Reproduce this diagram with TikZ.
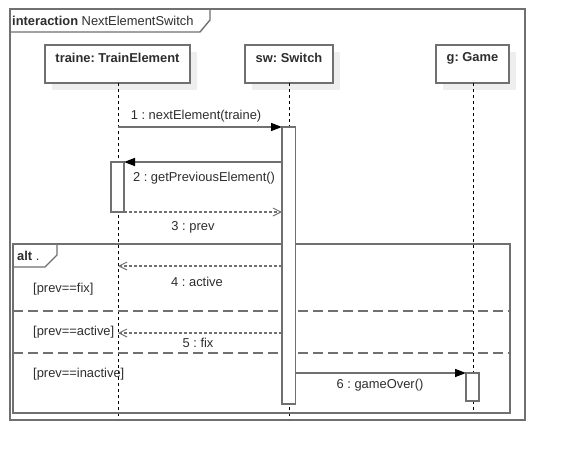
\documentclass[tikz,border=0pt]{standalone}
\usepackage{fontspec}
\setmainfont{Liberation Sans}
\usetikzlibrary{arrows.meta,calc}
\frenchspacing
\definecolor{linegray}{HTML}{707070}
\definecolor{textgray}{HTML}{2E2E2E}
\definecolor{shadowgray}{HTML}{EEEEEE}
\tikzset{
  x=1pt,y=-1pt,
  every node/.style={font=\fontsize{12.9}{15}\selectfont,text=textgray,inner sep=0pt},
  frameline/.style={draw=linegray,line width=1.4pt},
  headbox/.style={draw=linegray,line width=1.4pt,fill=white},
  shadowbox/.style={fill=shadowgray,draw=none},
  lifeline/.style={draw=black,line width=0.8pt,dash pattern=on 3pt off 3pt},
  actbox/.style={draw=linegray,line width=1.4pt,fill=white},
  callmsg/.style={draw=linegray,line width=1.4pt,-{Triangle[length=11pt,width=8pt,fill=black,color=black]}},
  replymsg/.style={draw=linegray,line width=1.2pt,dash pattern=on 3pt off 2pt,-{Straight Barb[length=8pt,width=8pt,color=linegray,line width=1pt]}},
  sepline/.style={draw=linegray,line width=1.4pt,dash pattern=on 10pt off 5pt},
}
\begin{document}
\begin{tikzpicture}
\useasboundingbox (0,0) rectangle (565,461);
\fill[white] (0,0) rectangle (565,461);

% outer interaction frame
\draw[frameline] (10,9) rectangle (525,420);
\draw[frameline] (10,32) -- (200,32) -- (210,20) -- (210,9);
\node[anchor=west] (title) at (12,20.5) {\textbf{interaction} NextElementSwitch};

% lifeline heads with shadows
\fill[shadowbox] (52,52) rectangle (197,90);
\fill[shadowbox] (252,52) rectangle (340,90);
\fill[shadowbox] (443,52) rectangle (516,90);
\draw[headbox] (45,45) rectangle (190,83);
\draw[headbox] (245,45) rectangle (333,83);
\draw[headbox] (436,45) rectangle (509,83);
\node (traine) at (117.5,58) {\textbf{traine: TrainElement}};
\node (sw) at (289,58) {\textbf{sw: Switch}};
\node (game) at (472.5,58) {\textbf{g: Game}};

% lifelines
\coordinate (tTop) at (118,83);
\coordinate (tBot) at (118,419);
\coordinate (sTop) at (289,83);
\coordinate (sBot) at (289,419);
\coordinate (gTop) at (473,83);
\coordinate (gBot) at (473,413);
\draw[lifeline] (tTop) -- (tBot);
\draw[lifeline] (sTop) -- (sBot);
\draw[lifeline] (gTop) -- (gBot);

% alt combined fragment
\draw[frameline] (13,244) rectangle (510,413);
\draw[frameline] (13,267) -- (45,267) -- (57,255) -- (57,244);
\node[anchor=west] (alt) at (17,256) {\textbf{alt} .};
\draw[sepline] (13,311) -- (510,311);
\draw[sepline] (13,353) -- (510,353);
\node[anchor=west] (g1) at (33,289) {[prev==fix]};
\node[anchor=west] (g2) at (33,332) {[prev==active]};
\node[anchor=west] (g3) at (33,374) {[prev==inactive]};

% activation bars
\draw[actbox] (282,127) rectangle (295.5,404);
\draw[actbox] (111,162) rectangle (124,212);
\draw[actbox] (466,373) rectangle (479,401);

% messages
\coordinate (m1s) at (118,127);   \coordinate (m1e) at (282,127);
\coordinate (m2s) at (282,162);   \coordinate (m2e) at (124,162);
\coordinate (m3s) at (124,212);   \coordinate (m3e) at (282,212);
\coordinate (m4s) at (282,266);   \coordinate (m4e) at (118,266);
\coordinate (m5s) at (282,333);   \coordinate (m5e) at (118,333);
\coordinate (m6s) at (295.5,373); \coordinate (m6e) at (466,373);
\draw[callmsg] (m1s) -- (m1e);
\draw[callmsg] (m2s) -- (m2e);
\draw[replymsg] (m3s) -- (m3e);
\draw[replymsg] (m4s) -- (m4e);
\draw[replymsg] (m5s) -- (m5e);
\draw[callmsg] (m6s) -- (m6e);

\node (l1) at (196,116) {1 : nextElement(traine)};
\node (l2) at (204,178) {2 : getPreviousElement()};
\node (l3) at (193,227) {3 : prev};
\node (l4) at (197,282) {4 : active};
\node (l5) at (198,343) {5 : fix};
\node (l6) at (380,385) {6 : gameOver()};
\end{tikzpicture}
\end{document}
